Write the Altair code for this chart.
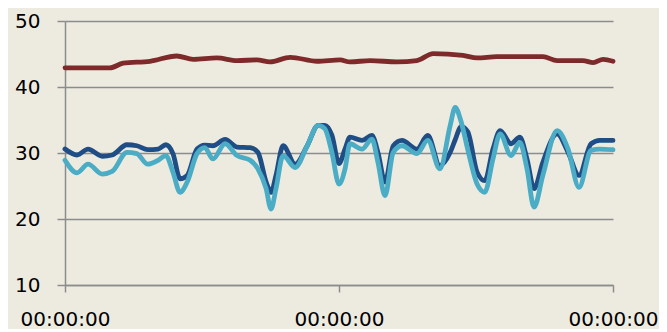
import altair as alt
import pandas as pd

# time position (0..100 along the x axis) and values
red_t = [0, 8.2, 10.6, 15.5, 20.4, 23.4, 27.7, 31.4, 35.0, 37.4, 41.1, 46.0, 50.2, 52.0,
         55.7, 60.6, 64.2, 67.2, 72.6, 75.2, 78.8, 87.2, 89.8, 94.5, 96.4, 98.2, 100]
red_v = [42.9, 42.9, 43.6, 43.9, 44.7, 44.2, 44.4, 44.0, 44.1, 43.8, 44.5, 43.9, 44.1, 43.8,
         44.0, 43.8, 44.0, 45.05, 44.8, 44.4, 44.6, 44.6, 44.0, 44.0, 43.7, 44.2, 43.9]

blue_t = [0, 2.2, 4.2, 6.8, 8.6, 11.3, 13.1, 15.1, 17.0, 18.4, 19.7, 21.0, 22.3, 24.1, 25.5,
          27.0, 29.2, 31.4, 33.8, 35.2, 36.7, 37.6, 38.5, 39.8, 42.0, 44.2, 46.2, 47.4, 48.7,
          50.0, 51.1, 52.0, 54.2, 56.0, 57.1, 58.4, 59.9, 61.5, 64.2, 66.2, 68.4, 70.3, 71.2,
          72.3, 73.5, 75.2, 76.6, 78.1, 79.4, 81.4, 83.0, 84.3, 85.6, 87.2, 89.8, 91.8, 93.8,
          96.0, 97.6, 100]
dark_v = [30.6, 29.7, 30.6, 29.5, 29.7, 31.25, 31.1, 30.5, 30.6, 31.25, 29.9, 26.1, 26.6, 30.6, 31.2,
          31.1, 32.05, 30.9, 30.8, 30.1, 25.6, 24.05, 26.6, 31.1, 28.3, 31.1, 34.2, 34.2, 32.7,
          28.4, 30.6, 32.4, 31.9, 32.65, 30.1, 25.6, 31.1, 31.9, 30.6, 32.65, 28.1, 30.1, 32.0,
          34.0, 33.2, 27.1, 25.8, 30.6, 33.4, 31.4, 32.4, 29.1, 24.6, 28.6, 32.9, 30.1, 26.6,
          31.4, 31.9, 31.9]
light_v = [28.9, 27.0, 28.3, 26.8, 27.2, 30.1, 29.9, 28.3, 28.9, 29.6, 27.1, 24.05, 25.6, 29.9, 30.8,
           29.1, 31.4, 29.6, 28.9, 27.6, 24.6, 21.5, 24.6, 29.6, 27.8, 31.1, 34.2, 33.7, 30.1,
           25.3, 27.6, 31.4, 30.6, 32.1, 28.6, 23.55, 30.1, 31.1, 29.9, 31.9, 27.6, 34.2, 36.9,
           34.7, 30.5, 25.3, 24.05, 29.1, 32.9, 29.6, 31.6, 27.6, 21.8, 26.6, 33.4, 30.6, 24.8,
           30.4, 30.6, 30.5]

tick_vals = [0, 50, 100]
y_ticks = [10, 20, 30, 40, 50]

red_df = pd.DataFrame({"t": red_t, "v": red_v})
dark_df = pd.DataFrame({"t": blue_t, "v": dark_v})
light_df = pd.DataFrame({"t": blue_t, "v": light_v})

FONT = "DejaVu Sans"
x_enc = alt.X("t:Q", scale=alt.Scale(domain=[0, 100], nice=False, zero=False),
              axis=alt.Axis(values=tick_vals, labelExpr="'00:00:00'", title=None,
                            grid=False, domainColor="#8C8C8C", domainWidth=1.5,
                            tickColor="#8C8C8C", tickWidth=1.5, tickSize=7,
                            labelFont=FONT, labelFontSize=20, labelColor="#000000",
                            labelPadding=17, labelFlush=False, labelOverlap=False))
y_enc = alt.Y("v:Q", scale=alt.Scale(domain=[10, 50], nice=False, zero=False),
              axis=alt.Axis(values=y_ticks, title=None, grid=True, gridColor="#8C8C8C",
                            gridWidth=1.5, domainColor="#8C8C8C", domainWidth=1.5,
                            tickColor="#8C8C8C", tickWidth=1.5, tickSize=8,
                            labelFont=FONT, labelFontSize=20, labelColor="#000000",
                            labelPadding=17))

def layer(df, color):
    return alt.Chart(df).mark_line(color=color, strokeWidth=4.8, interpolate="monotone",
                                   strokeCap="round", strokeJoin="round").encode(x=x_enc, y=y_enc)

chart = alt.layer(
    layer(red_df, "#7E2A2A"),
    layer(dark_df, "#1F4D85"),
    layer(light_df, "#4BACC6"),
).properties(
    width=548, height=264,
    autosize=alt.AutoSizeParams(type="none"),
    padding={"left": 57, "top": 13, "right": 46, "bottom": 44},
    background="#EDEBE0",
).configure_view(stroke=None)

chart.save("out.html", embed_options={"renderer": "svg", "actions": False})
